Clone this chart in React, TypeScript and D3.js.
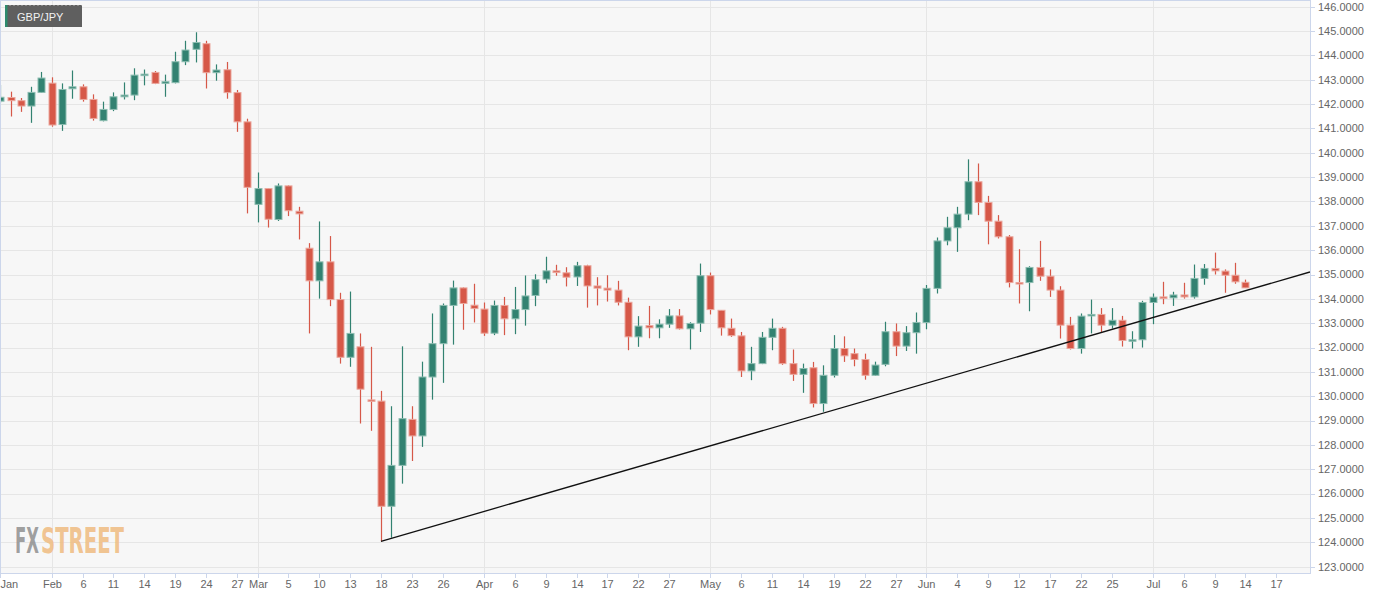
import React from "react";
import * as d3 from "d3";

// ---- Data (trading-day index, GBP/JPY daily candles, late Jan – mid Jul) ----
const opens = [
  142.12, 142.27, 142.14, 141.92, 142.48, 142.86, 141.16, 142.63, 142.71, 142.19,
  141.32, 141.78, 142.30, 142.37, 143.18, 143.30, 142.85, 142.88, 143.74, 144.25,
  144.48, 143.29, 143.41, 142.47, 141.27, 137.88, 138.53, 137.26, 138.64, 137.60,
  136.08, 134.74, 135.52, 133.97, 131.60, 132.03, 129.85, 129.80, 125.48, 127.16,
  129.05, 128.37, 130.79, 132.16, 133.73, 134.45, 133.74, 133.58, 132.59, 133.73,
  133.18, 133.56, 134.14, 134.81, 135.15, 135.07, 134.90, 135.36, 134.53, 134.44,
  134.36, 133.86, 132.44, 132.90, 132.81, 132.96, 133.30, 132.77, 133.00, 134.95,
  133.53, 132.79, 132.48, 131.04, 131.34, 132.42, 132.79, 131.34, 130.90, 131.17,
  129.70, 130.86, 131.96, 131.75, 131.51, 130.86, 131.31, 132.65, 132.06, 132.61,
  133.03, 134.43, 136.38, 136.92, 137.48, 138.81, 137.96, 137.19, 136.55, 134.67,
  134.67, 135.29, 134.93, 134.36, 132.92, 131.96, 133.31, 133.36, 132.92, 133.12,
  132.26, 132.32, 133.85, 134.08, 134.04, 134.16, 134.08, 134.84, 135.25, 135.14,
  134.97, 134.68,
];
const highs = [
  142.78, 142.51, 142.25, 142.71, 143.32, 143.10, 142.85, 143.38, 142.81, 142.40,
  142.10, 142.48, 142.89, 143.47, 143.42, 143.36, 143.21, 144.15, 144.60, 144.95,
  144.60, 143.63, 143.73, 142.58, 141.40, 139.19, 138.55, 138.74, 138.66, 137.78,
  136.29, 137.18, 136.58, 134.25, 134.30, 132.58, 132.03, 130.22, 129.59, 132.05,
  129.59, 131.42, 133.40, 133.81, 134.75, 134.47, 134.62, 133.85, 133.93, 134.08,
  134.49, 134.96, 135.01, 135.73, 135.40, 135.30, 135.52, 135.40, 134.89, 134.97,
  134.74, 134.05, 133.29, 133.71, 133.16, 133.58, 133.58, 133.04, 135.45, 135.08,
  133.53, 133.19, 132.64, 132.03, 132.64, 133.19, 132.85, 131.92, 131.34, 131.41,
  131.27, 132.51, 132.46, 131.96, 131.75, 131.42, 133.06, 132.99, 132.88, 133.44,
  134.57, 136.52, 137.37, 137.78, 139.73, 139.56, 138.23, 137.44, 136.62, 136.04,
  135.34, 136.38, 135.21, 134.52, 133.26, 133.40, 133.97, 133.62, 133.62, 133.30,
  132.67, 133.92, 134.22, 134.70, 134.29, 134.66, 135.41, 135.43, 135.90, 135.21,
  135.48, 134.79,
];
const lows = [
  142.05, 141.49, 141.68, 141.23, 142.46, 141.07, 140.90, 142.22, 142.10, 141.32,
  141.29, 141.71, 142.19, 142.16, 142.77, 142.82, 142.30, 142.85, 143.60, 143.71,
  142.64, 142.96, 142.22, 140.86, 137.51, 137.14, 136.93, 137.20, 137.40, 136.44,
  132.58, 134.01, 133.70, 131.34, 131.21, 128.88, 128.58, 124.04, 124.19, 126.41,
  127.34, 127.92, 129.86, 130.55, 132.12, 132.73, 133.03, 132.48, 132.51, 132.51,
  132.55, 132.90, 133.70, 134.64, 134.95, 134.51, 134.53, 133.64, 133.73, 133.89,
  133.73, 131.89, 132.03, 132.38, 132.38, 132.81, 132.74, 131.92, 132.64, 133.36,
  132.49, 132.44, 130.79, 130.66, 131.32, 131.89, 131.29, 130.63, 130.14, 129.54,
  129.36, 130.77, 131.41, 131.23, 130.68, 130.84, 131.23, 131.65, 131.86, 131.75,
  132.75, 134.22, 136.20, 135.93, 137.23, 137.44, 136.24, 136.48, 134.47, 133.81,
  133.49, 134.74, 134.08, 132.37, 131.92, 131.75, 132.58, 132.64, 132.78, 132.04,
  131.96, 132.00, 132.96, 133.78, 133.71, 134.01, 134.01, 134.58, 135.00, 134.25,
  134.62, 134.45,
];
const closes = [
  142.28, 142.14, 141.92, 142.48, 143.07, 141.14, 142.60, 142.71, 142.19, 141.41,
  141.78, 142.30, 142.37, 143.19, 143.23, 142.85, 142.92, 143.74, 144.22, 144.53,
  143.29, 143.40, 142.47, 141.27, 138.58, 138.53, 137.27, 138.64, 137.62, 137.49,
  134.74, 135.52, 133.97, 131.60, 132.58, 130.29, 129.82, 125.48, 127.16, 129.08,
  128.37, 130.79, 132.16, 133.73, 134.45, 133.81, 133.60, 132.59, 133.73, 133.18,
  133.56, 134.12, 134.79, 135.15, 135.08, 134.89, 135.36, 134.53, 134.44, 134.36,
  133.86, 132.44, 132.88, 132.81, 132.96, 133.30, 132.77, 132.99, 134.95, 133.56,
  132.81, 132.49, 131.04, 131.34, 132.42, 132.79, 131.34, 130.90, 131.14, 129.70,
  130.86, 131.96, 131.66, 131.51, 130.86, 131.28, 132.65, 132.06, 132.61, 133.03,
  134.43, 136.38, 136.92, 137.48, 138.81, 137.96, 137.19, 136.55, 134.67, 134.63,
  135.29, 134.93, 134.36, 132.92, 131.96, 133.29, 133.36, 132.92, 133.12, 132.29,
  132.32, 133.85, 134.07, 134.04, 134.16, 134.08, 134.84, 135.25, 135.15, 134.97,
  134.70, 134.45,
];

// x-axis tick labels: [trading-day index, label]
const xTickIndex = [0, 5, 8, 11, 14, 17, 20, 23, 25, 28, 31, 34, 37, 40, 43, 47, 50, 53, 56, 59, 62, 65, 69, 72, 75, 78, 81, 84, 87, 90, 93, 96, 99, 102, 105, 108, 112, 115, 118, 121, 124];
const xTickLabels = ["Jan", "Feb", "6", "11", "14", "19", "24", "27", "Mar", "5", "10", "13", "18", "23", "26", "Apr", "6", "9", "14", "17", "22", "27", "May", "6", "11", "14", "19", "22", "27", "Jun", "4", "9", "12", "17", "22", "25", "Jul", "6", "9", "14", "17"];
const monthStartIndex = [5, 25, 47, 69, 90, 112];

// y-axis ticks
const yTicks = d3.range(123, 147, 1);

// trendline anchor points [index, price]
const trendIndex = [37, 80];
const trendPrice = [124.04, 129.31];

const symbol = "GBP/JPY";

// ---- Layout ----
const W = 1387;
const H = 598;
const PL = 0;
const PR = 1310;
const PT = 0;
const PB = 573;

const UP = "#328271";
const UP_EDGE = "#8dbdb1";
const DOWN = "#d65848";
const DOWN_EDGE = "#eba79d";
const AXIS = "#ccd6eb";
const GRID = "#e6e6e6";

export default function App() {
  const x = d3.scaleLinear().domain([-0.025, 127.28]).range([PL, PR]);
  const y = d3.scaleLinear().domain([122.74, 146.275]).range([PB, PT]);

  const candles = opens.map((o, i) => ({ i, o, h: highs[i], l: lows[i], c: closes[i] }));

  const slope = (trendPrice[1] - trendPrice[0]) / (trendIndex[1] - trendIndex[0]);
  const xMax = x.domain()[1];
  const trendPts: [number, number][] = [
    [trendIndex[0], trendPrice[0]],
    [xMax, trendPrice[0] + slope * (xMax - trendIndex[0])],
  ];
  const trendLine = d3
    .line<[number, number]>()
    .x((d) => x(d[0]))
    .y((d) => y(d[1]))(trendPts);

  const font = "'Liberation Sans', Arial, sans-serif";
  const logoFont = "'DejaVu Sans Condensed', 'DejaVu Sans', sans-serif";

  return (
    <svg
      width={W}
      height={H}
      style={{ position: "absolute", left: 0, top: 0, background: "#ffffff" }}
    >
      <defs>
        <clipPath id="plotclip">
          <rect x={PL} y={PT} width={PR - PL} height={PB - PT} />
        </clipPath>
      </defs>
      <rect x={PL} y={PT} width={PR - PL} height={PB - PT} fill="#f7f7f7" />

      {/* horizontal grid */}
      {yTicks.map((t) => (
        <line
          key={"g" + t}
          x1={PL}
          x2={PR}
          y1={Math.round(y(t)) + 0.5}
          y2={Math.round(y(t)) + 0.5}
          stroke={GRID}
          strokeWidth={1}
        />
      ))}
      {/* vertical month grid */}
      {monthStartIndex.map((m) => (
        <line
          key={"v" + m}
          x1={Math.round(x(m)) + 0.5}
          x2={Math.round(x(m)) + 0.5}
          y1={PT}
          y2={PB}
          stroke={GRID}
          strokeWidth={1}
        />
      ))}

      {/* logo (condensed, vertically stretched) */}
      <g transform="translate(0,552.5) scale(1,1.98)">
        <text
          x={15}
          y={0}
          fontFamily={logoFont}
          fontWeight="bold"
          fontSize={18}
          fill="#8f8f8f"
          fillOpacity={0.85}
          textLength={24}
          lengthAdjust="spacingAndGlyphs"
        >
          FX
        </text>
        <text
          x={41}
          y={0}
          fontFamily={logoFont}
          fontWeight="bold"
          fontSize={18}
          fill="#f0bd84"
          fillOpacity={0.9}
          textLength={83}
          lengthAdjust="spacingAndGlyphs"
        >
          STREET
        </text>
      </g>

      {/* candles */}
      <g clipPath="url(#plotclip)">
        {candles.map((d) => {
          const cx = Math.round(x(d.i)) + 0.5;
          const up = d.c >= d.o;
          const col = up ? UP : DOWN;
          const edge = up ? UP_EDGE : DOWN_EDGE;
          const yTop = y(Math.max(d.o, d.c));
          const yBot = y(Math.min(d.o, d.c));
          const bh = Math.max(1.5, yBot - yTop);
          return (
            <g key={d.i}>
              <line x1={cx} x2={cx} y1={y(d.h)} y2={y(d.l)} stroke={col} strokeWidth={1.2} />
              <rect
                x={cx - 3.5}
                y={yTop}
                width={7}
                height={bh}
                fill={col}
                stroke={edge}
                strokeWidth={1}
              />
            </g>
          );
        })}
        <path d={trendLine || ""} fill="none" stroke="#111" strokeWidth={1.3} />
      </g>

      {/* plot border / axes */}
      <line x1={PL + 0.5} x2={PL + 0.5} y1={PT} y2={PB} stroke={AXIS} />
      <line x1={PL} x2={PR} y1={PT + 0.5} y2={PT + 0.5} stroke={AXIS} />
      <line x1={PR + 0.5} x2={PR + 0.5} y1={PT} y2={PB} stroke={AXIS} />
      <line x1={PL} x2={PR + 1} y1={PB + 0.5} y2={PB + 0.5} stroke={AXIS} />

      {/* y axis */}
      {yTicks.map((t) => (
        <g key={"yt" + t}>
          <line
            x1={PR}
            x2={PR + 5}
            y1={Math.round(y(t)) + 0.5}
            y2={Math.round(y(t)) + 0.5}
            stroke={AXIS}
          />
          <text
            x={PR + 8}
            y={y(t)}
            dy="0.35em"
            fontFamily={font}
            fontSize={11}
            fill="#666666"
          >
            {t.toFixed(4)}
          </text>
        </g>
      ))}

      {/* x axis */}
      {xTickIndex.map((idx, k) => {
        const tx = Math.round(x(idx)) + 0.5;
        const label = xTickLabels[k];
        const approxW = label.length * 6.2;
        const lx = Math.max(tx, approxW / 2);
        return (
          <g key={"xt" + k}>
            <line x1={tx} x2={tx} y1={PB} y2={PB + 5} stroke={AXIS} />
            <text
              x={lx}
              y={588}
              textAnchor="middle"
              fontFamily={font}
              fontSize={11}
              fill="#666666"
            >
              {label}
            </text>
          </g>
        );
      })}

      {/* symbol label */}
      <rect x={5} y={5} width={77} height={22} fill="#5f5f5f" />
      <line x1={5} x2={82} y1={5.5} y2={5.5} stroke="#8a8a8a" strokeDasharray="2,2" />
      <rect x={5} y={5} width={2.5} height={22} fill="#2e8b6d" />
      <text x={17} y={20.5} fontFamily={font} fontSize={11} fill="#f2f2f2">
        {symbol}
      </text>
    </svg>
  );
}
